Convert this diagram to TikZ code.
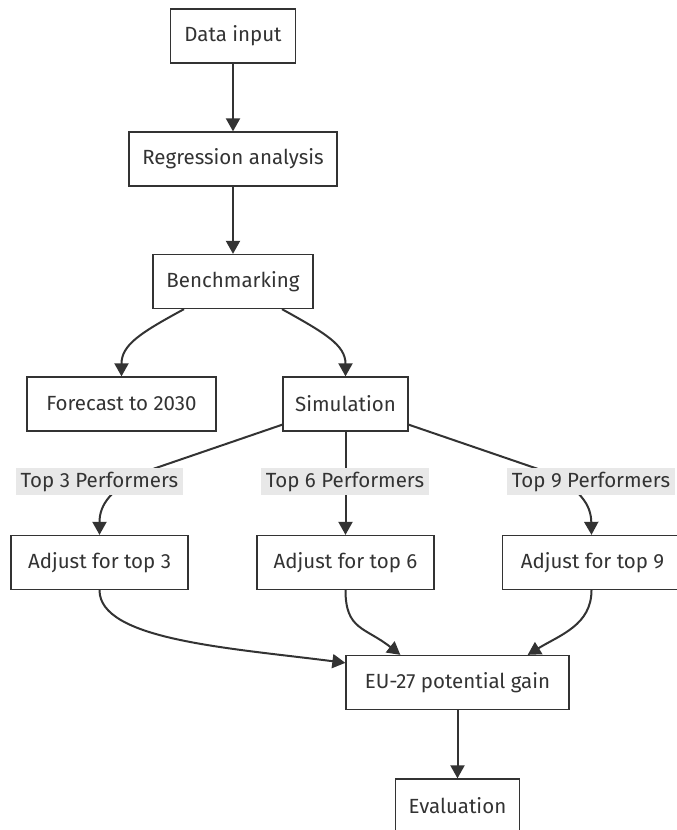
\documentclass[tikz,border=0pt]{standalone}
\usepackage{fontspec}
\setmainfont{Fira Sans}
\usetikzlibrary{arrows.meta,calc}
\definecolor{boxc}{HTML}{333333}
\definecolor{edgec}{HTML}{333333}
\definecolor{txtc}{HTML}{333333}
\definecolor{lblc}{HTML}{E8E8E8}
\begin{document}
\begin{tikzpicture}[x=1pt,y=-1pt,
  box/.style={draw=boxc, line width=1.3pt, fill=white, text=txtc,
    font=\fontsize{20.5}{24}\selectfont, minimum height=54pt, inner sep=0pt, anchor=center},
  lbl/.style={fill=lblc, text=txtc, font=\fontsize{20.5}{24}\selectfont,
    inner sep=0pt, minimum height=27pt, anchor=center},
  edge/.style={draw=edgec, line width=2pt, -{Triangle[length=13pt,width=14pt]}}]
\useasboundingbox (0,0) rectangle (677,830);

\node[box, minimum width=125pt] (data) at (233,36) {Data input};
\node[box, minimum width=208pt] (reg) at (233,159) {Regression analysis};
\node[box, minimum width=160pt] (bench) at (233,281.5) {Benchmarking};
\node[box, minimum width=189pt] (fore) at (121.5,404) {Forecast to 2030};
\node[box, minimum width=125pt] (sim) at (345.5,404) {Simulation};
\node[box, minimum width=177pt] (adj3) at (99.5,562.5) {Adjust for top 3};
\node[box, minimum width=177pt] (adj6) at (345.5,562.5) {Adjust for top 6};
\node[box, minimum width=180pt] (adj9) at (592.5,562.5) {Adjust for top 9};
\node[box, minimum width=223pt] (eu) at (457.5,682.5) {EU-27 potential gain};
\node[box, minimum width=124pt] (eval) at (457.5,806) {Evaluation};

\draw[edge] (data) -- (reg);
\draw[edge] (reg) -- (bench);
\draw[edge] ($(bench.south)+(-49,0)$) .. controls (140,333) and (121.5,345) .. (fore.north);
\draw[edge] ($(bench.south)+(49,0)$) .. controls (325,333) and (345.5,345) .. (sim.north);
\draw[edge] ($(sim.south west)+(0,-7)$) -- (150,470) .. controls (110,488) and (99.5,505) .. (adj3.north);
\draw[edge] (sim) -- (adj6);
\draw[edge] ($(sim.south east)+(0,-7)$) -- (541,470) .. controls (581,488) and (591,505) .. ($(adj9.north)+(-1,0)$);
\draw[edge] (adj3.south) .. controls (99.5,640) and (230,648) .. ($(eu.north west)+(0,8)$);
\draw[edge] (adj6.south) .. controls (345.5,630) and (365,627) .. ($(eu.north west)+(55,0)$);
\draw[edge] ($(adj9.south)+(-1,0)$) .. controls (591.5,625) and (560,635) .. ($(eu.north east)+(-42,0)$);
\draw[edge] (eu) -- (eval);

\node[lbl, minimum width=167pt] (l3) at (99.5,481.5) {Top 3 Performers};
\node[lbl, minimum width=168pt] (l6) at (345,481.5) {Top 6 Performers};
\node[lbl, minimum width=168pt] (l9) at (591,481.5) {Top 9 Performers};
\end{tikzpicture}
\end{document}
